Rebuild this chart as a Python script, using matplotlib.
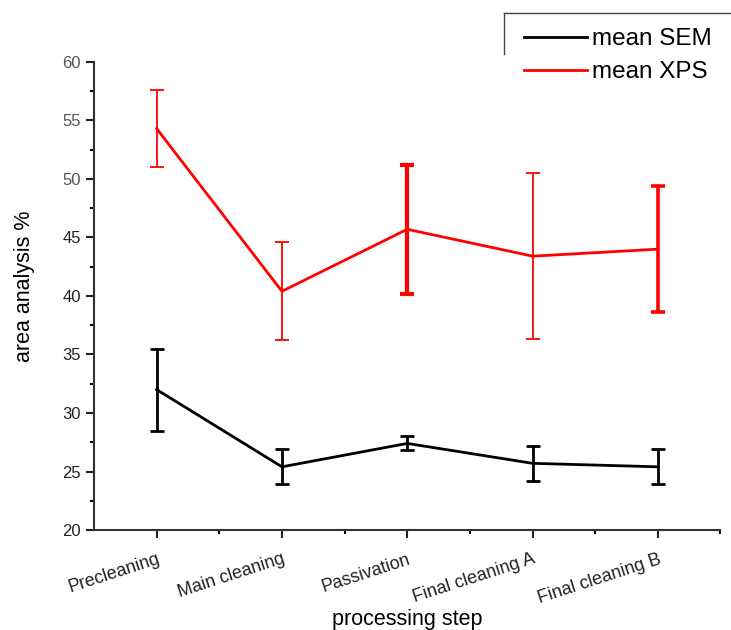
import numpy as np
import matplotlib
matplotlib.use("Agg")
import matplotlib.pyplot as plt
from matplotlib.lines import Line2D
from matplotlib.ticker import MultipleLocator

plt.rcParams['font.family'] = ['Liberation Sans', 'DejaVu Sans']

steps = ["Precleaning", "Main cleaning", "Passivation", "Final cleaning A", "Final cleaning B"]
sem_mean = [32.0, 25.4, 27.4, 25.7, 25.4]
sem_err = [3.5, 1.5, 0.6, 1.5, 1.5]
xps_mean = [54.3, 40.4, 45.7, 43.4, 44.0]
xps_err = [3.3, 4.2, 5.5, 7.1, 5.4]

x = np.arange(1, len(steps) + 1)

fig = plt.figure(figsize=(7.31, 6.30), dpi=100)
ax = fig.add_axes([0.1286, 0.1587, 0.857, 0.743])

# error bar thickness differs point to point in the original
xps_ew = [1.3, 1.3, 3.0, 1.3, 2.6]
sem_ew = [2.0, 2.0, 2.0, 2.0, 2.0]

ax.plot(x, sem_mean, color='k', lw=2, label='mean SEM')
ax.plot(x, xps_mean, color='#ff0000', lw=2, label='mean XPS')
for i in range(len(x)):
    ax.errorbar(x[i], sem_mean[i], yerr=sem_err[i], color='k', elinewidth=sem_ew[i],
                capsize=5, capthick=sem_ew[i], fmt='none')
    ax.errorbar(x[i], xps_mean[i], yerr=xps_err[i], color='#ff0000', elinewidth=xps_ew[i],
                capsize=5, capthick=xps_ew[i], fmt='none')

ax.set_xlim(0.5, 5.5)
ax.set_ylim(20, 60)
ax.set_xticks(x)
ax.set_xticklabels(steps, rotation=18, ha='right', rotation_mode='anchor', fontsize=13)
ax.set_xticks(x + 0.5, minor=True)
ax.yaxis.set_major_locator(MultipleLocator(5))
ax.yaxis.set_minor_locator(MultipleLocator(2.5))
ax.tick_params(axis='both', which='major', length=6, width=1.5, colors='#222222')
ax.tick_params(axis='y', which='major', labelsize=12)
ax.tick_params(axis='x', which='major', pad=9)
ax.tick_params(axis='both', which='minor', length=3, width=1.5)
for lbl in ax.get_yticklabels():
    if lbl.get_text() in ('50', '55', '60'):
        lbl.set_color('#555555')

for s in ['top', 'right']:
    ax.spines[s].set_visible(False)
for s in ['left', 'bottom']:
    ax.spines[s].set_linewidth(1.5)
    ax.spines[s].set_color('#333333')

ax.set_xlabel('processing step', fontsize=15.5)
ax.xaxis.set_label_coords(0.5, -0.168)
ax.set_ylabel('area analysis %', fontsize=15.5)
ax.yaxis.set_label_coords(-0.094, 0.521)

leg = fig.legend(loc='upper left', bbox_to_anchor=(0.687, 0.990), frameon=False,
                 fontsize=17.5, handlelength=2.6, handletextpad=0.2, labelspacing=0.45)
fig.add_artist(Line2D([0.689, 1.0], [0.979, 0.979], transform=fig.transFigure, color='#444444', lw=1))
fig.add_artist(Line2D([0.689, 0.689], [0.979, 0.914], transform=fig.transFigure, color='#444444', lw=1))

fig.savefig('out.png', dpi=100)
